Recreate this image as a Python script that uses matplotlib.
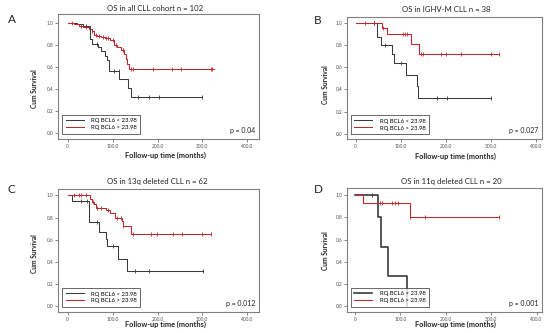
import numpy as np
import matplotlib
matplotlib.use("Agg")
import matplotlib.pyplot as plt

plt.rcParams['font.family'] = ['Lato', 'DejaVu Sans']

low_label = "RQ BCL6 < 23.98"
high_label = "RQ BCL6 > 23.98"

# panel A - all CLL cohort
a_low_t = [0, 20, 35, 50, 55, 68, 74, 82, 88, 93, 115, 135, 140, 300]
a_low_s = [1.0, 0.99, 0.97, 0.85, 0.81, 0.78, 0.74, 0.70, 0.66, 0.56, 0.49, 0.41, 0.33, 0.33]
a_low_c = [41, 65, 102, 114, 157, 181, 203, 300]
a_high_t = [0, 15, 25, 35, 48, 55, 58, 65, 75, 82, 95, 103, 110, 118, 125, 129, 133, 137, 325]
a_high_s = [1.0, 0.99, 0.97, 0.96, 0.94, 0.925, 0.89, 0.88, 0.87, 0.86, 0.84, 0.80, 0.78, 0.75, 0.72, 0.67, 0.63, 0.585, 0.585]
a_high_c = [10, 30, 40, 55, 62, 70, 78, 85, 90, 100, 108, 122, 124, 140, 145, 190, 233, 253, 318, 322]

# panel B - IGHV-M
b_low_t = [0, 47, 56, 81, 86, 111, 136, 139, 300]
b_low_s = [1.0, 0.87, 0.80, 0.72, 0.64, 0.53, 0.43, 0.32, 0.32]
b_low_c = [40, 65, 100, 180, 202, 300]
b_high_t = [0, 58, 69, 123, 141, 318]
b_high_s = [1.0, 0.95, 0.90, 0.81, 0.72, 0.72]
b_high_c = [20, 40, 60, 105, 110, 115, 145, 150, 190, 200, 235, 300, 318]

# panel C - 13q deleted
c_low_t = [0, 9, 48, 70, 85, 88, 113, 133, 301]
c_low_s = [1.0, 0.95, 0.76, 0.67, 0.61, 0.54, 0.43, 0.32, 0.32]
c_low_c = [30, 42, 65, 100, 150, 180, 301]
c_high_t = [0, 50, 53, 58, 64, 85, 94, 105, 120, 123, 125, 140, 318]
c_high_s = [1.0, 0.97, 0.94, 0.92, 0.89, 0.87, 0.84, 0.80, 0.77, 0.72, 0.72, 0.65, 0.65]
c_high_c = [15, 25, 30, 40, 57, 65, 75, 90, 110, 118, 124, 145, 185, 198, 235, 255, 300, 318]

# panel D - 11q deleted
d_low_t = [0, 50, 57, 73, 114]
d_low_s = [1.0, 0.80, 0.53, 0.27, 0.0]
d_low_c = [37]
d_high_t = [0, 18, 121, 318]
d_high_s = [1.0, 0.93, 0.80, 0.80]
d_high_c = [55, 60, 82, 88, 95, 122, 155, 318]

titles = ["OS in all CLL cohort n = 102", "OS in IGHV-M CLL n = 38",
          "OS in 13q deleted CLL n = 62", "OS in 11q deleted CLL n = 20"]
letters = ["A", "B", "C", "D"]
pvals = ["p = 0.04", "p = 0.027", "p = 0.012", "p = 0.001"]

panels = [
    (a_low_t, a_low_s, a_low_c, a_high_t, a_high_s, a_high_c),
    (b_low_t, b_low_s, b_low_c, b_high_t, b_high_s, b_high_c),
    (c_low_t, c_low_s, c_low_c, c_high_t, c_high_s, c_high_c),
    (d_low_t, d_low_s, d_low_c, d_high_t, d_high_s, d_high_c),
]

# layout (figure fractions)
ax_pos = [[0.1055, 0.5826, 0.3655, 0.3754],
          [0.6309, 0.5826, 0.3545, 0.3664],
          [0.1055, 0.0631, 0.3655, 0.3694],
          [0.6309, 0.0631, 0.3545, 0.3724]]
xlims = [(-21.6, 426), (-19.3, 414), (-21.6, 426), (-17.6, 412)]
ylims = [(-0.052, 1.079), (-0.048, 1.054), (-0.051, 1.057), (-0.051, 1.063)]
title_xy = [(0.282, 0.984), (0.812, 0.982), (0.2855, 0.466), (0.821, 0.466)]
letter_xy = [(0.0145, 0.94), (0.571, 0.937), (0.0145, 0.43), (0.57, 0.432)]
xlab_xy = [(0.301, 0.534), (0.8285, 0.531), (0.3, 0.027), (0.8285, 0.027)]
ylab_xy = [(0.0636, 0.733), (0.591, 0.745), (0.0636, 0.237), (0.591, 0.246)]

black = "#3a3a3a"
red = "#c0282d"

fig = plt.figure(figsize=(5.5, 3.33), dpi=100)


def surv_at(t, s, x):
    i = np.searchsorted(t, x, side="right") - 1
    return np.asarray(s)[i]


for k, (lt, ls, lc, ht, hs, hc) in enumerate(panels):
    ax = fig.add_axes(ax_pos[k])
    lw_low = 1.2 if k == 3 else 0.75
    ax.step(lt, ls, where="post", color=black, lw=lw_low, label=low_label)
    ax.step(ht, hs, where="post", color=red, lw=0.75, label=high_label)
    ax.plot(lc, surv_at(lt, ls, lc), ls="none", marker="|", ms=2.5, mew=0.6, color=black)
    ax.plot(hc, surv_at(ht, hs, hc), ls="none", marker="|", ms=2.5, mew=0.6, color=red)

    ax.set_xlim(xlims[k])
    ax.set_ylim(ylims[k])
    ax.set_xticks([0, 100, 200, 300, 400])
    ax.set_xticklabels(["0", "100.0", "200.0", "300.0", "400.0"])
    ax.set_yticks([0, 0.2, 0.4, 0.6, 0.8, 1.0])
    ax.set_yticklabels(["0.0", "0.2", "0.4", "0.6", "0.8", "1.0"])
    ax.tick_params(labelsize=3.5, length=2, width=0.5, colors="#555555", pad=1.5)
    for sp in ax.spines.values():
        sp.set_color("#808080")
        sp.set_linewidth(0.8)

    leg = ax.legend(loc="lower left", bbox_to_anchor=(0.02, 0.04), borderaxespad=0,
                    fontsize=4.3, handlelength=3.0, frameon=True, fancybox=False,
                    borderpad=0.6, labelspacing=0.3, handletextpad=1.2)
    leg.get_frame().set_edgecolor("#222222")
    leg.get_frame().set_linewidth(0.6)

    ax.text(0.98, 0.07, pvals[k], transform=ax.transAxes, ha="right", va="center",
            fontsize=5, color="#222222")

    fig.text(*title_xy[k], titles[k], ha="center", va="top", fontsize=5.6, color="#222222")
    fig.text(*letter_xy[k], letters[k], ha="left", va="center", fontsize=8.5, color="#222222")
    fig.text(*xlab_xy[k], "Follow-up time (months)", ha="center", va="center",
             fontsize=5.3, fontweight="bold", color="#222222")
    fig.text(*ylab_xy[k], "Cum Survival", ha="center", va="center", rotation=90,
             fontsize=4.8, fontweight="bold", color="#222222")

fig.savefig("out.png", dpi=100)
